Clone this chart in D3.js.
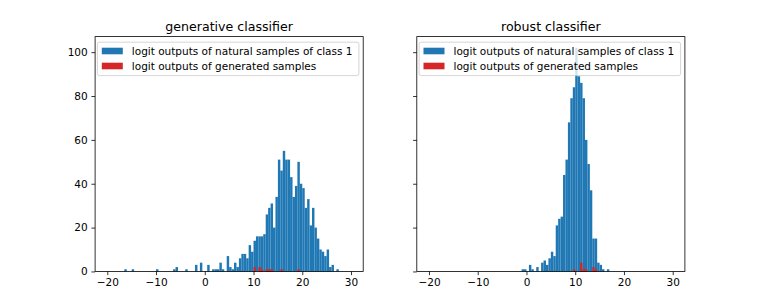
<!DOCTYPE html>
<html>
<head>
<meta charset="utf-8">
<script src="https://cdn.jsdelivr.net/npm/d3@7"></script>
<style>
  body { margin: 0; background: #fff; }
  text { font-family: "DejaVu Sans", sans-serif; fill: #000; }
</style>
</head>
<body>
<div id="chart"></div>
<script>
// histogram bins: 100 bins of width 0.5 over [-20, 30]
const binStart = -20;
const binWidth = 0.5;
const xTicks = [-20, -10, 0, 10, 20, 30];
const yTicks = [0, 20, 40, 60, 80, 100];
const titles = ["generative classifier", "robust classifier"];
const legendLabels = ["logit outputs of natural samples of class 1", "logit outputs of generated samples"];

// counts per bin, left panel
const genNatural = [
    0, 0, 0, 0, 0, 0, 0, 1, 0, 0,
    1, 0, 0, 0, 0, 0, 0, 0, 0, 0,
    1, 0, 0, 0, 0, 0, 0, 1, 2, 0,
    0, 0, 1, 0, 0, 0, 3, 0, 4, 0,
    0, 3, 0, 1, 1, 1, 4, 1, 0, 7,
    2, 1, 4, 2, 6, 8, 8, 6, 12, 9,
    14, 16, 16, 16, 17, 26, 29, 31, 20, 34,
    51, 46, 55, 51, 51, 43, 34, 39, 50, 40,
    38, 29, 33, 21, 29, 20, 15, 10, 9, 7,
    10, 2, 3, 0, 1, 0, 0, 0, 0, 0
];
const genGenerated = [
    0, 0, 0, 0, 0, 0, 0, 0, 0, 0,
    0, 0, 0, 0, 0, 0, 0, 0, 0, 0,
    0, 0, 0, 0, 0, 0, 0, 0, 0, 0,
    0, 0, 0, 0, 0, 0, 0, 0, 0, 0,
    0, 0, 0, 0, 0, 0, 0, 0, 0, 0,
    0, 0, 0, 0, 0, 0, 0, 0, 0, 0,
    2, 0, 2, 1, 0, 1, 1, 1, 0, 0,
    0, 1, 0, 0, 0, 0, 0, 0, 1, 0,
    0, 0, 0, 0, 0, 0, 0, 0, 0, 0,
    0, 0, 0, 0, 0, 0, 0, 0, 0, 0
];

// counts per bin, right panel
const robNatural = [
    0, 0, 0, 0, 0, 0, 0, 0, 0, 0,
    0, 0, 0, 0, 0, 0, 0, 0, 0, 0,
    0, 0, 0, 0, 0, 0, 0, 0, 0, 0,
    0, 0, 0, 0, 0, 0, 0, 0, 1, 1,
    0, 3, 1, 0, 2, 0, 4, 5, 3, 6,
    9, 7, 21, 24, 25, 44, 51, 68, 79, 84,
    102, 89, 86, 79, 60, 49, 37, 15, 15, 4,
    3, 1, 0, 1, 0, 0, 0, 0, 0, 0,
    0, 0, 0, 0, 0, 0, 0, 0, 0, 0,
    0, 0, 0, 0, 0, 0, 0, 0, 0, 0
];
const robGenerated = [
    0, 0, 0, 0, 0, 0, 0, 0, 0, 0,
    0, 0, 0, 0, 0, 0, 0, 0, 0, 0,
    0, 0, 0, 0, 0, 0, 0, 0, 0, 0,
    0, 0, 0, 0, 0, 0, 0, 0, 0, 0,
    0, 0, 0, 0, 0, 0, 0, 0, 0, 0,
    0, 0, 0, 0, 0, 0, 0, 0, 0, 1,
    0, 0, 4, 1, 1, 0, 0, 2, 1, 0,
    0, 0, 0, 0, 0, 0, 0, 0, 0, 0,
    0, 0, 0, 0, 0, 0, 0, 0, 0, 0,
    0, 0, 0, 0, 0, 0, 0, 0, 0, 0
];

const colors = ["#1f77b4", "#d62728"];
const W = 761, H = 305;
const axTop = 36.6, axHeight = 234.85, axWidth = 268.1;
const lefts = [95.1, 416.8];
const tickLen = 3.7, tickPad = 3.7;

const svg = d3.select("#chart").append("svg")
    .attr("width", W)
    .attr("height", H);

// shared scales (sharey)
const x = d3.scaleLinear().domain([-22.5, 32.5]).range([0, axWidth]);
const yMax = d3.max(genNatural.concat(robNatural)) * 1.05;
const y = d3.scaleLinear().domain([0, yMax]).range([axHeight, 0]);

function drawPanel(i, natural, generated) {
    const g = svg.append("g")
        .attr("transform", `translate(${lefts[i]},${axTop})`);

    [natural, generated].forEach((counts, s) => {
        g.append("g")
            .selectAll("rect")
            .data(counts.map((c, k) => ({ c: c, k: k })).filter(d => d.c > 0))
            .join("rect")
            .attr("x", d => x(binStart + d.k * binWidth))
            .attr("width", d => x(binStart + (d.k + 1) * binWidth) - x(binStart + d.k * binWidth))
            .attr("y", d => y(d.c))
            .attr("height", d => y(0) - y(d.c))
            .attr("fill", colors[s]);
    });

    // axes
    const xAxis = d3.axisBottom(x).tickValues(xTicks).tickSize(tickLen).tickPadding(tickPad);
    const yAxis = d3.axisLeft(y).tickValues(yTicks).tickSize(tickLen).tickPadding(tickPad);
    if (i === 1) yAxis.tickFormat("");

    const gx = g.append("g")
        .attr("transform", `translate(0,${axHeight})`)
        .call(xAxis);
    const gy = g.append("g").call(yAxis);
    [gx, gy].forEach(a => {
        a.select(".domain").remove();
        a.selectAll("line").attr("stroke", "#000").attr("stroke-width", 0.8);
        a.selectAll("text")
            .style("font-family", "DejaVu Sans")
            .style("font-size", "10.5px")
            .attr("fill", "#000");
    });

    // frame
    g.append("rect")
        .attr("width", axWidth)
        .attr("height", axHeight)
        .attr("fill", "none")
        .attr("stroke", "#000")
        .attr("stroke-width", 0.8);

    // title
    g.append("text")
        .attr("x", axWidth / 2)
        .attr("y", -6.1)
        .attr("text-anchor", "middle")
        .style("font-size", "12.6px")
        .text(titles[i]);

    // legend
    const lg = g.append("g").attr("transform", "translate(2.3,5.6)");
    lg.append("rect")
        .attr("width", 261.5)
        .attr("height", 33.4)
        .attr("rx", 2)
        .attr("fill", "#fff")
        .attr("fill-opacity", 0.8)
        .attr("stroke", "#cccccc")
        .attr("stroke-width", 0.8);
    legendLabels.forEach((label, r) => {
        const cy = 8.8 + r * 15;
        lg.append("rect")
            .attr("x", 4.4)
            .attr("y", cy - 3.3)
            .attr("width", 21)
            .attr("height", 6.6)
            .attr("fill", colors[r]);
        lg.append("text")
            .attr("x", 34.4)
            .attr("y", cy + 3.8)
            .style("font-size", "10.5px")
            .text(label);
    });
}

drawPanel(0, genNatural, genGenerated);
drawPanel(1, robNatural, robGenerated);
</script>
</body>
</html>
